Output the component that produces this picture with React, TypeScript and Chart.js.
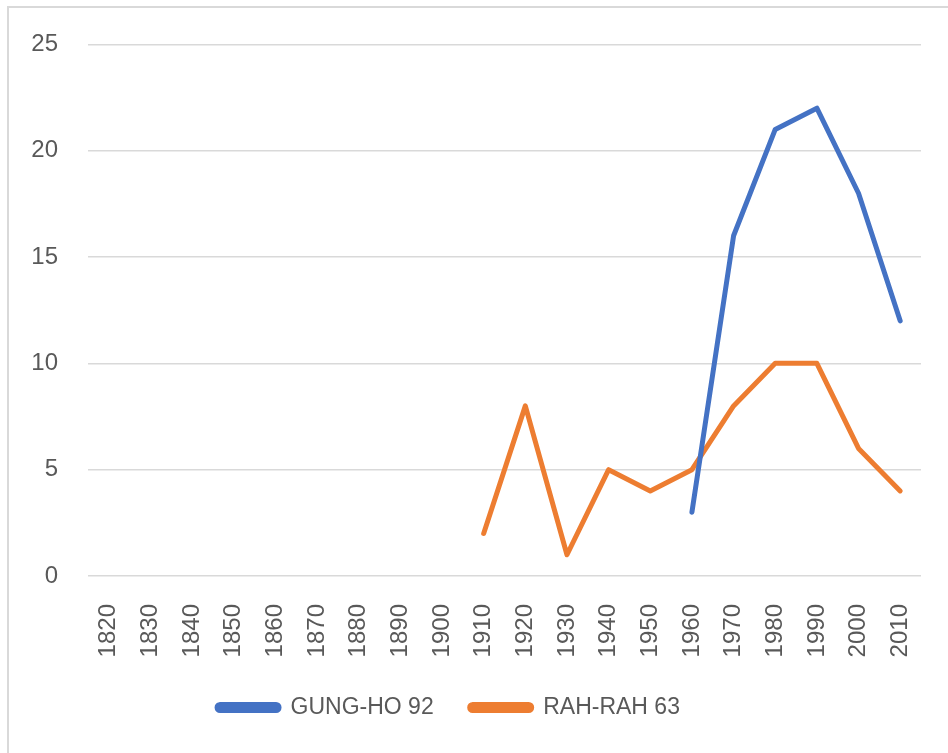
import React, { useEffect, useRef } from "react";
import { Chart, registerables } from "chart.js";

Chart.register(...registerables);

const categories = ["1820","1830","1840","1850","1860","1870","1880","1890","1900","1910","1920","1930","1940","1950","1960","1970","1980","1990","2000","2010"];
const gungHo = [null,null,null,null,null,null,null,null,null,null,null,null,null,null,3,16,21,22,18,12];
const rahRah = [null,null,null,null,null,null,null,null,null,2,8,1,5,4,5,8,10,10,6,4];
const seriesNames = ["GUNG-HO 92", "RAH-RAH 63"];
const yTicks = { min: 0, max: 25, step: 5 };

const FONT = "'Liberation Sans', Arial, sans-serif";
const TEXT = "#595959";

const legendShift = {
  id: "legendShift",
  afterLayout(chart: any) {
    const l = chart.legend;
    if (l) {
      l.left -= 12;
      l.right -= 12;
    }
  },
};

export default function App() {
  const ref = useRef<HTMLCanvasElement | null>(null);
  useEffect(() => {
    if (!ref.current) return;
    const chart = new Chart(ref.current, {
      type: "line",
      data: {
        labels: categories,
        datasets: [
          {
            label: seriesNames[0],
            data: gungHo,
            borderColor: "#4472C4",
            backgroundColor: "#4472C4",
            borderWidth: 5,
            pointRadius: 0,
            borderCapStyle: "round",
            borderJoinStyle: "round",
            tension: 0,
          },
          {
            label: seriesNames[1],
            data: rahRah,
            borderColor: "#ED7D31",
            backgroundColor: "#ED7D31",
            borderWidth: 5,
            pointRadius: 0,
            borderCapStyle: "round",
            borderJoinStyle: "round",
            tension: 0,
          },
        ],
      },
      options: {
        responsive: false,
        animation: false,
        layout: { padding: { left: 0, top: 43, right: 27, bottom: 24 } },
        plugins: {
          tooltip: { enabled: false },
          legend: {
            position: "bottom",
            labels: {
              color: TEXT,
              font: { family: FONT, size: 23 },
              boxWidth: 62,
              boxHeight: 6,
              padding: 36,
              useBorderRadius: true,
              borderRadius: 3,
            },
          },
        },
        scales: {
          x: {
            offset: true,
            grid: { display: false },
            border: { display: false },
            ticks: {
              color: TEXT,
              font: { family: FONT, size: 24 },
              maxRotation: 90,
              minRotation: 90,
              padding: 20,
              autoSkip: false,
            },
            afterFit: (s: any) => {
              s.height = 84;
              s.paddingLeft = 0;
              s.paddingRight = 0;
            },
          },
          y: {
            min: yTicks.min,
            max: yTicks.max,
            grid: { color: "#d9d9d9", lineWidth: 1.5, drawTicks: false },
            border: { display: false },
            ticks: {
              stepSize: yTicks.step,
              color: TEXT,
              font: { family: FONT, size: 24 },
              padding: 30,
            },
            afterFit: (s: any) => { s.width = 88; },
          },
        },
      },
      plugins: [legendShift],
    });
    return () => chart.destroy();
  }, []);
  return (
    <>
      <div
        style={{
          position: "fixed",
          left: 7,
          top: 6,
          width: 941,
          height: 747,
          boxSizing: "border-box",
          borderLeft: "2px solid #d9d9d9",
          borderTop: "2px solid #d9d9d9",
        }}
      />
      <canvas
        ref={ref}
        width={948}
        height={753}
        style={{ position: "fixed", left: 0, top: 0, width: 948, height: 753 }}
      />
    </>
  );
}
